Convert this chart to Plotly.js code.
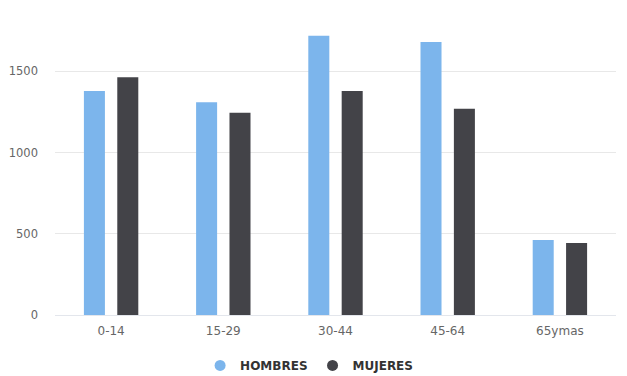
<!DOCTYPE html>
<html><head><meta charset="utf-8">
<script src="https://cdn.plot.ly/plotly-3.0.1.min.js"></script>
<style>html,body{margin:0;padding:0;background:#fff}#chart{width:627px;height:376px}</style>
</head><body><div id="chart"></div>
<script>
var categories = ["0-14", "15-29", "30-44", "45-64", "65ymas"];
var hombres = [1379, 1309, 1719, 1680, 461];
var mujeres = [1463, 1244, 1379, 1270, 443];
var seriesNames = ["HOMBRES", "MUJERES"];
var colors = ["#7cb5ec", "#434348"];

var traces = [
  {type: "bar", x: categories, y: hombres, name: seriesNames[0], marker: {color: colors[0]}, showlegend: false, hoverinfo: "x+y"},
  {type: "bar", x: categories, y: mujeres, name: seriesNames[1], marker: {color: colors[1]}, showlegend: false, hoverinfo: "x+y"},
  {type: "scatter", mode: "markers", x: [null], y: [null], name: seriesNames[0], marker: {color: colors[0], symbol: "circle", size: 11}, showlegend: true},
  {type: "scatter", mode: "markers", x: [null], y: [null], name: seriesNames[1], marker: {color: colors[1], symbol: "circle", size: 11}, showlegend: true}
];

var layout = {
  width: 627, height: 376,
  margin: {l: 55, r: 11, t: 29, b: 61, autoexpand: false},
  paper_bgcolor: "#fff", plot_bgcolor: "#fff",
  barmode: "group", bargap: 0.405, bargroupgap: 0.37,
  font: {family: "DejaVu Sans, Verdana, sans-serif", size: 11, color: "#666666"},
  xaxis: {type: "category", showgrid: false, zeroline: false, showline: true, linecolor: "#e3e6ec", linewidth: 1,
          ticks: "", tickfont: {size: 12, color: "#666666"}, ticklabelstandoff: 5},
  yaxis: {range: [0, 1760], tickvals: [0, 500, 1000, 1500], showgrid: true, gridcolor: "#e8e8e8", zeroline: false,
          showline: false, ticks: "", tickfont: {size: 11.5, color: "#666666"}, ticklabelstandoff: 16},
  legend: {orientation: "h", xref: "container", yref: "container", x: 0.493, xanchor: "center", y: 0.028, yanchor: "middle",
           font: {size: 12, color: "#333333", weight: "bold"}, itemwidth: 30, tracegroupgap: 0},
  showlegend: true
};
Plotly.newPlot("chart", traces, layout, {displayModeBar: false, staticPlot: true});
</script></body></html>
